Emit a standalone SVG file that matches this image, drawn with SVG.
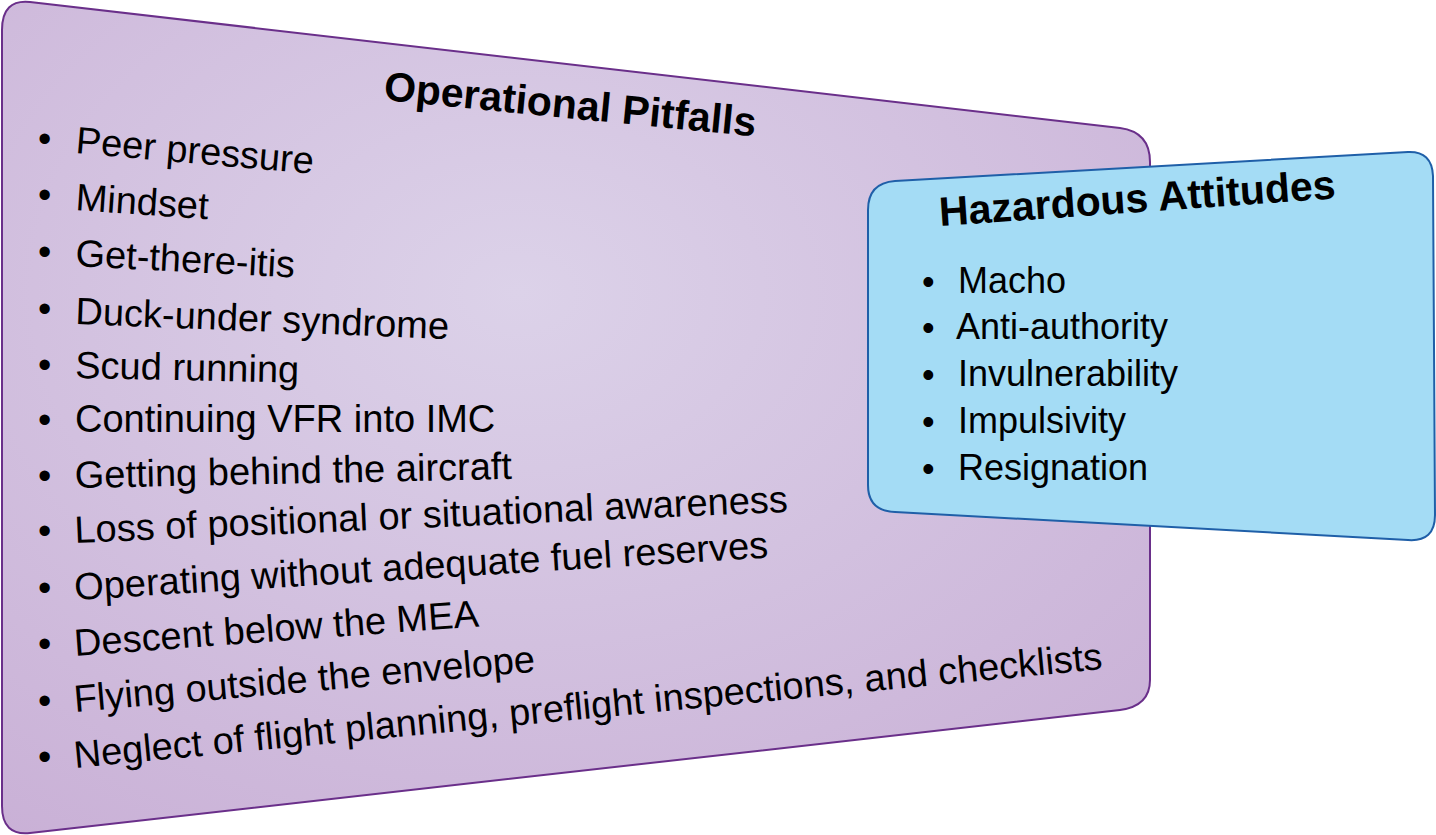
<svg xmlns="http://www.w3.org/2000/svg" width="1436" height="835" viewBox="0 0 1436 835">
<style>
.t{font-family:"Liberation Sans",Arial,sans-serif;fill:#000}
.h{font-weight:bold;font-size:41px}
.i{font-size:38px}
.b{font-size:36px}
</style>
<defs>
<radialGradient id="pg" cx="0.45" cy="0.35" r="0.8">
<stop offset="0" stop-color="#dcd2e9"/><stop offset="1" stop-color="#c9b0d6"/>
</radialGradient>
</defs>
<g id="pitfalls">
<path d="M30,2 L1120,128 Q1150,132 1150,162 L1150,680 Q1150,706 1120,710 L30,833 Q2,836 2,806 L2,30 Q2,-1 30,2 Z" fill="url(#pg)" stroke="#6a2f8a" stroke-width="2"/>
<text class="t h" transform="translate(383,100) rotate(5.6)">Operational Pitfalls</text>
<g class="t i">
<text x="38" y="152">•</text><text transform="translate(75,153) rotate(5)">Peer pressure</text>
<text x="38" y="208">•</text><text transform="translate(75,210) rotate(4)">Mindset</text>
<text x="38" y="265">•</text><text transform="translate(75,266) rotate(3)">Get-there-itis</text>
<text x="38" y="322">•</text><text transform="translate(75,324) rotate(2.3)">Duck-under syndrome</text>
<text x="38" y="378">•</text><text transform="translate(75,378) rotate(1.2)">Scud running</text>
<text x="38" y="433">•</text><text transform="translate(75,432) rotate(0)">Continuing VFR into IMC</text>
<text x="38" y="489">•</text><text transform="translate(75,488) rotate(-1.2)">Getting behind the aircraft</text>
<text x="38" y="544">•</text><text transform="translate(75,543) rotate(-2.5)">Loss of positional or situational awareness</text>
<text x="38" y="601">•</text><text transform="translate(75,600) rotate(-3.5)">Operating without adequate fuel reserves</text>
<text x="38" y="657">•</text><text transform="translate(75,656) rotate(-4.2)">Descent below the MEA</text>
<text x="38" y="714">•</text><text transform="translate(75,712) rotate(-5)">Flying outside the envelope</text>
<text x="38" y="770">•</text><text transform="translate(75,768) rotate(-5.5)">Neglect of flight planning, preflight inspections, and checklists</text>
</g>
</g>
<g id="hazardous">
<path d="M895,181 L1408,152 Q1432,151 1433,176 L1435,515 Q1435,542 1408,540 L895,512 Q868,511 868,485 L868,210 Q868,183 895,181 Z" fill="#a4dcf5" stroke="#1f5fa8" stroke-width="2"/>
<text class="t h" transform="translate(940,226) rotate(-4)">Hazardous Attitudes</text>
<g class="t b">
<text x="922" y="294">•</text><text x="958" y="293">Macho</text>
<text x="922" y="340">•</text><text x="956" y="339">Anti-authority</text>
<text x="922" y="387">•</text><text x="958" y="386">Invulnerability</text>
<text x="922" y="434">•</text><text x="958" y="433">Impulsivity</text>
<text x="922" y="481">•</text><text x="958" y="480">Resignation</text>
</g>
</g>
<g id="connectors"/>
</svg>
